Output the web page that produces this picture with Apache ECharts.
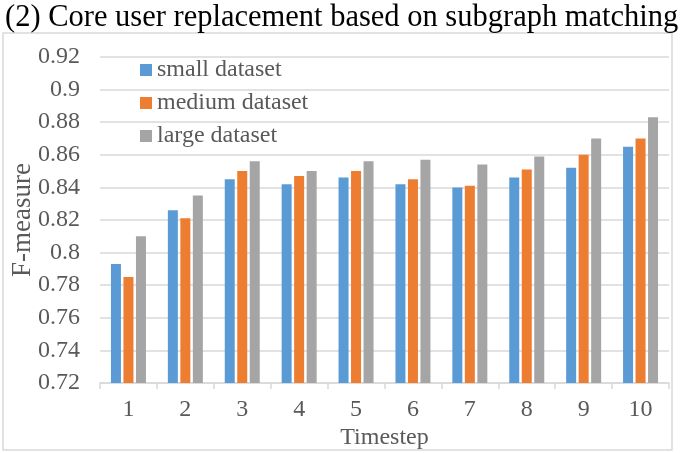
<!DOCTYPE html>
<html>
<head>
<meta charset="utf-8">
<script src="https://cdn.jsdelivr.net/npm/echarts@6/dist/echarts.min.js"></script>
<style>
  html, body { margin: 0; padding: 0; background: #fff; }
  #chart { width: 685px; height: 453px; }
</style>
</head>
<body>
<div id="chart"></div>
<script>
// data
const timesteps = ['1', '2', '3', '4', '5', '6', '7', '8', '9', '10'];
const smallData = [0.793, 0.826, 0.845, 0.842, 0.846, 0.842, 0.840, 0.846, 0.852, 0.865];
const mediumData = [0.785, 0.821, 0.850, 0.847, 0.850, 0.845, 0.841, 0.851, 0.860, 0.870];
const largeData = [0.810, 0.835, 0.856, 0.850, 0.856, 0.857, 0.854, 0.859, 0.870, 0.883];

const colors = ['#5B9BD5', '#ED7D31', '#A5A5A5'];
const font = 'Liberation Serif, Times New Roman, serif';

const myChart = echarts.init(document.getElementById('chart'));

const option = {
  animation: false,
  color: colors,
  textStyle: { fontFamily: font },
  title: {
    text: '(2) Core user replacement based on subgraph matching',
    left: 0,
    top: -3,
    textStyle: { fontFamily: font, fontSize: 30.5, fontWeight: 'normal', color: '#000' }
  },
  graphic: [{
    type: 'rect',
    shape: { x: 3, y: 33, width: 669, height: 417 },
    style: { fill: 'none', stroke: '#D9D9D9', lineWidth: 1.5 },
    silent: true
  }],
  legend: {
    orient: 'vertical',
    left: 135,
    top: 53,
    itemWidth: 12,
    itemHeight: 12,
    itemGap: 9,
    icon: 'rect',
    textStyle: { fontFamily: font, fontSize: 24, color: '#595959' },
    data: ['small dataset', 'medium dataset', 'large dataset']
  },
  grid: { left: 100, right: 16, top: 57, bottom: 70, containLabel: false, outerBoundsMode: 'none' },
  xAxis: {
    type: 'category',
    data: timesteps,
    name: 'Timestep',
    nameLocation: 'middle',
    nameGap: 43,
    nameMoveOverlap: false,
    nameTextStyle: { fontFamily: font, fontSize: 24, color: '#595959' },
    axisLine: { lineStyle: { color: '#D9D9D9', width: 1.5 } },
    axisTick: { show: true, length: 6, lineStyle: { color: '#D9D9D9', width: 1.5 } },
    axisLabel: { fontFamily: font, fontSize: 24, color: '#595959', margin: 15 }
  },
  yAxis: {
    type: 'value',
    min: 0.72,
    max: 0.92,
    interval: 0.02,
    name: 'F-measure',
    nameLocation: 'middle',
    nameGap: 64,
    nameMoveOverlap: false,
    nameTextStyle: { fontFamily: font, fontSize: 27, color: '#595959' },
    axisLine: { show: false },
    axisTick: { show: false },
    splitLine: { lineStyle: { color: '#D9D9D9', width: 1.5 } },
    axisLabel: {
      fontFamily: font, fontSize: 24, color: '#595959', margin: 20,
      formatter: v => String(parseFloat(v.toFixed(2)))
    }
  },
  series: [
    { name: 'small dataset', type: 'bar', data: smallData, barWidth: 10, barGap: '25%' },
    { name: 'medium dataset', type: 'bar', data: mediumData, barWidth: 10, barGap: '25%' },
    { name: 'large dataset', type: 'bar', data: largeData, barWidth: 10, barGap: '25%' }
  ]
};
myChart.setOption(option);
</script>
</body>
</html>
